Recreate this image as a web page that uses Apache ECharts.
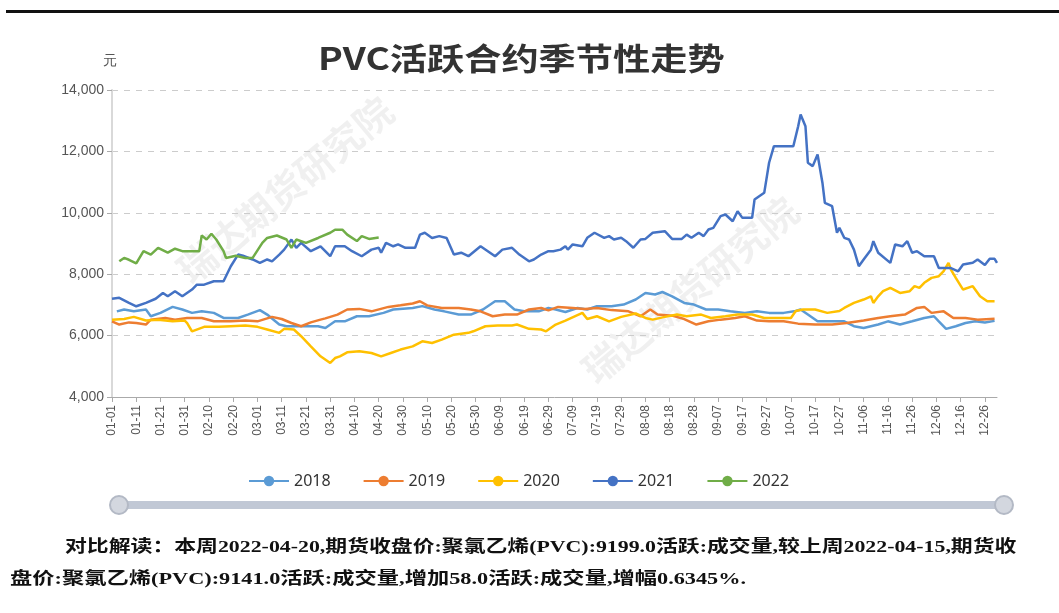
<!DOCTYPE html>
<html>
<head>
<meta charset="utf-8">
<script src="https://cdn.jsdelivr.net/npm/echarts@6/dist/echarts.min.js"></script>
<style>
  html, body { margin: 0; padding: 0; background: #fff; }
  #chart { width: 1059px; height: 613px; }
</style>
</head>
<body>
<div id="chart"></div>
<script>
// category axis: every day of a leap year, MM-DD
const monthDays = [31, 29, 31, 30, 31, 30, 31, 31, 30, 31, 30, 31]
const days = []
monthDays.forEach((n, m) => {
  for (let d = 1; d <= n; d++) {
    days.push(String(m + 1).padStart(2, '0') + '-' + String(d).padStart(2, '0'))
  }
})

const years = ['2018', '2019', '2020', '2021', '2022']
const colors = ['#5B9BD5', '#ED7D31', '#FFC000', '#4472C4', '#70AD47']
const yTicks = [4000, 14000, 2000] // min, max, step

// values, [date, price]
const s2018 = [
  ['01-03', 6790], ['01-06', 6850], ['01-10', 6790], ['01-15', 6850], ['01-17', 6630], ['01-21', 6740],
  ['01-26', 6935], ['01-30', 6850], ['02-03', 6740], ['02-07', 6790], ['02-12', 6740], ['02-16', 6575],
  ['02-22', 6575], ['02-26', 6685], ['03-02', 6830], ['03-05', 6685], ['03-10', 6360], ['03-13', 6305],
  ['03-21', 6305], ['03-26', 6305], ['03-29', 6250], ['04-02', 6465], ['04-06', 6465], ['04-11', 6630],
  ['04-16', 6630], ['04-22', 6740], ['04-26', 6850], ['05-04', 6900], ['05-08', 6960], ['05-13', 6850],
  ['05-17', 6790], ['05-23', 6685], ['05-28', 6685], ['06-02', 6850], ['06-07', 7120], ['06-11', 7120],
  ['06-15', 6850], ['06-19', 6790], ['06-25', 6790], ['06-29', 6900], ['07-02', 6850], ['07-06', 6770],
  ['07-11', 6900], ['07-15', 6850], ['07-19', 6955], ['07-25', 6955], ['07-30', 7010], ['08-04', 7175],
  ['08-08', 7390], ['08-12', 7340], ['08-15', 7420], ['08-19', 7280], ['08-24', 7065], ['08-28', 7010],
  ['09-02', 6850], ['09-07', 6850], ['09-12', 6790], ['09-18', 6740], ['09-23', 6790], ['09-28', 6740],
  ['10-04', 6740], ['10-09', 6800], ['10-11', 6850], ['10-14', 6690], ['10-18', 6465], ['10-24', 6465],
  ['10-29', 6465], ['11-02', 6305], ['11-06', 6250], ['11-12', 6360], ['11-16', 6465], ['11-21', 6360],
  ['11-26', 6465], ['12-01', 6575], ['12-05', 6630], ['12-07', 6465], ['12-10', 6220], ['12-14', 6305],
  ['12-18', 6410], ['12-22', 6465], ['12-26', 6430], ['12-30', 6480]
]
const s2019 = [
  ['01-01', 6465], ['01-04', 6360], ['01-08', 6430], ['01-11', 6410], ['01-15', 6360], ['01-17', 6520],
  ['01-23', 6575], ['01-27', 6520], ['02-01', 6575], ['02-07', 6575], ['02-12', 6465], ['02-19', 6465],
  ['02-25', 6490], ['03-01', 6465], ['03-07', 6610], ['03-11', 6540], ['03-15', 6410], ['03-19', 6305],
  ['03-23', 6430], ['03-27', 6520], ['03-29', 6560], ['04-03', 6685], ['04-07', 6850], ['04-12', 6870],
  ['04-17', 6790], ['04-24', 6935], ['04-29', 6985], ['05-04', 7045], ['05-07', 7120], ['05-10', 6985],
  ['05-16', 6900], ['05-23', 6900], ['05-28', 6850], ['06-01', 6790], ['06-06', 6630], ['06-11', 6685],
  ['06-16', 6685], ['06-21', 6850], ['06-26', 6900], ['06-29', 6820], ['07-03', 6935], ['07-09', 6900],
  ['07-14', 6870], ['07-19', 6900], ['07-25', 6830], ['08-01', 6790], ['08-06', 6630], ['08-10', 6850],
  ['08-13', 6685], ['08-19', 6650], ['08-24', 6540], ['08-29', 6360], ['09-03', 6465], ['09-08', 6520],
  ['09-14', 6575], ['09-18', 6630], ['09-23', 6490], ['09-28', 6465], ['10-04', 6465], ['10-10', 6390],
  ['10-17', 6360], ['10-24', 6360], ['10-30', 6410], ['11-06', 6490], ['11-12', 6575], ['11-17', 6630],
  ['11-23', 6685], ['11-28', 6900], ['12-01', 6935], ['12-04', 6740], ['12-09', 6790], ['12-13', 6575],
  ['12-18', 6575], ['12-23', 6520], ['12-30', 6550]
]
const s2020 = [
  ['01-01', 6520], ['01-06', 6540], ['01-10', 6610], ['01-15', 6490], ['01-20', 6520], ['01-26', 6465],
  ['01-31', 6490], ['02-01', 6410], ['02-03', 6140], ['02-08', 6285], ['02-14', 6285], ['02-19', 6305],
  ['02-25', 6330], ['03-01', 6285], ['03-05', 6200], ['03-10', 6090], ['03-12', 6220], ['03-16', 6200],
  ['03-19', 5980], ['03-23', 5650], ['03-27', 5325], ['03-31', 5110], ['04-02', 5270], ['04-04', 5325],
  ['04-07', 5455], ['04-12', 5490], ['04-17', 5435], ['04-21', 5325], ['04-25', 5435], ['04-29', 5545],
  ['05-04', 5650], ['05-08', 5815], ['05-12', 5760], ['05-16', 5870], ['05-21', 6030], ['05-27', 6090],
  ['05-29', 6140], ['06-03', 6305], ['06-08', 6330], ['06-14', 6330], ['06-16', 6360], ['06-21', 6220],
  ['06-26', 6200], ['06-28', 6140], ['07-02', 6360], ['07-06', 6490], ['07-13', 6740], ['07-15', 6540],
  ['07-19', 6630], ['07-24', 6465], ['07-29', 6610], ['08-04', 6720], ['08-08', 6575], ['08-11', 6520],
  ['08-16', 6610], ['08-21', 6685], ['08-25', 6630], ['08-31', 6685], ['09-04', 6575], ['09-10', 6630],
  ['09-15', 6685], ['09-21', 6685], ['09-26', 6575], ['10-07', 6575], ['10-09', 6800], ['10-12', 6850],
  ['10-17', 6850], ['10-22', 6740], ['10-27', 6800], ['10-29', 6900], ['11-02', 7065], ['11-06', 7175],
  ['11-09', 7280], ['11-10', 7065], ['11-12', 7280], ['11-14', 7445], ['11-17', 7555], ['11-21', 7390],
  ['11-25', 7445], ['11-27', 7610], ['11-29', 7555], ['12-01', 7720], ['12-04', 7880], ['12-07', 7935],
  ['12-09', 8100], ['12-11', 8370], ['12-12', 8150], ['12-14', 7880], ['12-17', 7500], ['12-21', 7610],
  ['12-24', 7280], ['12-27', 7120], ['12-30', 7120]
]
const s2021 = [
  ['01-01', 7200], ['01-04', 7230], ['01-08', 7065], ['01-11', 6955], ['01-15', 7065], ['01-19', 7200],
  ['01-22', 7390], ['01-24', 7280], ['01-27', 7445], ['01-30', 7280], ['02-03', 7500], ['02-05', 7660],
  ['02-08', 7660], ['02-12', 7770], ['02-16', 7770], ['02-19', 8260], ['02-22', 8640], ['02-24', 8600],
  ['02-28', 8480], ['03-02', 8370], ['03-05', 8480], ['03-07', 8420], ['03-10', 8640], ['03-12', 8800],
  ['03-15', 9130], ['03-17', 8860], ['03-19', 9020], ['03-23', 8750], ['03-27', 8910], ['03-31', 8585],
  ['04-02', 8910], ['04-06', 8910], ['04-09', 8750], ['04-13', 8585], ['04-17', 8800], ['04-20', 8860],
  ['04-21', 8700], ['04-23', 9020], ['04-26', 8910], ['04-28', 8970], ['05-01', 8860], ['05-05', 8860],
  ['05-07', 9290], ['05-09', 9350], ['05-12', 9180], ['05-15', 9240], ['05-18', 9180], ['05-21', 8640],
  ['05-24', 8700], ['05-27', 8585], ['06-01', 8910], ['06-04', 8750], ['06-07', 8585], ['06-10', 8800],
  ['06-14', 8860], ['06-17', 8640], ['06-21', 8420], ['06-23', 8480], ['06-26', 8640], ['06-29', 8750],
  ['07-01', 8750], ['07-04', 8800], ['07-06', 8910], ['07-07', 8800], ['07-09', 8970], ['07-13', 8910],
  ['07-15', 9185], ['07-18', 9350], ['07-22', 9185], ['07-24', 9240], ['07-26', 9130], ['07-29', 9185],
  ['07-31', 9075], ['08-03', 8860], ['08-06', 9130], ['08-08', 9150], ['08-11', 9350], ['08-16', 9400],
  ['08-19', 9150], ['08-23', 9150], ['08-25', 9290], ['08-27', 9185], ['08-30', 9350], ['09-01', 9240],
  ['09-03', 9455], ['09-05', 9510], ['09-08', 9890], ['09-10', 9945], ['09-13', 9725], ['09-15', 10050],
  ['09-17', 9835], ['09-21', 9835], ['09-22', 10430], ['09-26', 10650], ['09-28', 11630], ['09-30', 12170],
  ['10-08', 12170], ['10-10', 12820], ['10-11', 13200], ['10-13', 12820], ['10-14', 11630], ['10-16', 11520],
  ['10-18', 11900], ['10-20', 10980], ['10-21', 10325], ['10-24', 10215], ['10-26', 9350], ['10-27', 9510],
  ['10-29', 9185], ['10-31', 9130], ['11-02', 8800], ['11-04', 8260], ['11-06', 8480], ['11-09', 8800],
  ['11-10', 9075], ['11-12', 8700], ['11-17', 8370], ['11-19', 8970], ['11-22', 8910], ['11-24', 9075],
  ['11-26', 8700], ['11-28', 8750], ['12-01', 8585], ['12-05', 8585], ['12-07', 8200], ['12-12', 8200],
  ['12-15', 8095], ['12-17', 8315], ['12-21', 8370], ['12-23', 8480], ['12-26', 8300], ['12-28', 8500],
  ['12-30', 8500], ['12-31', 8370]
]
const s2022 = [
  ['01-04', 8420], ['01-06', 8530], ['01-08', 8470], ['01-11', 8350], ['01-14', 8750], ['01-17', 8640],
  ['01-20', 8860], ['01-24', 8700], ['01-27', 8830], ['01-30', 8750], ['02-06', 8750], ['02-07', 9260],
  ['02-09', 9130], ['02-11', 9320], ['02-13', 9130], ['02-16', 8750], ['02-17', 8530], ['02-21', 8600],
  ['02-25', 8530], ['02-28', 8530], ['03-03', 9020], ['03-05', 9180], ['03-09', 9260], ['03-13', 9130],
  ['03-15', 8860], ['03-17', 9130], ['03-21', 9020], ['03-26', 9180], ['03-31', 9350], ['04-02', 9450],
  ['04-05', 9450], ['04-07', 9290], ['04-11', 9080], ['04-13', 9240], ['04-16', 9150], ['04-20', 9199]
]
const seriesData = [s2018, s2019, s2020, s2021, s2022]

const titleText = 'PVC活跃合约季节性走势'
const noteLine1 = '对比解读：本周2022-04-20,期货收盘价:聚氯乙烯(PVC):9199.0活跃:成交量,较上周2022-04-15,期货收'
const noteLine2 = '盘价:聚氯乙烯(PVC):9141.0活跃:成交量,增加58.0活跃:成交量,增幅0.6345%.'

const chart = echarts.init(document.getElementById('chart'))

const noteStyle = {
  fill: '#111',
  font: 'bold 17px "Liberation Serif", "Noto Sans CJK SC", serif'
}
const markStyle = {
  fill: 'rgba(0,0,0,0.06)',
  font: 'bold 38px "Noto Sans CJK SC", sans-serif',
  align: 'center',
  verticalAlign: 'middle'
}

const option = {
  animation: false,
  color: colors,
  graphic: [
    { type: 'rect', left: 6, top: 10, shape: { width: 1053, height: 3 }, style: { fill: '#111' } },
    {
      type: 'text', x: 318, y: 43, scaleX: 1.2,
      style: { text: titleText, fill: '#333', font: 'bold 31px "Noto Sans CJK SC", sans-serif' }
    },
    { type: 'text', x: 285, y: 190, rotation: Math.PI * 0.22, style: Object.assign({ text: '瑞达期货研究院' }, markStyle) },
    { type: 'text', x: 690, y: 290, rotation: Math.PI * 0.22, style: Object.assign({ text: '瑞达期货研究院' }, markStyle) },
    { type: 'text', x: 65, y: 539, scaleX: 1.285, style: Object.assign({ text: noteLine1 }, noteStyle) },
    { type: 'text', x: 10, y: 571, scaleX: 1.31, style: Object.assign({ text: noteLine2 }, noteStyle) }
  ],
  legend: {
    data: years,
    top: 468,
    left: 243,
    itemWidth: 40,
    itemHeight: 13,
    itemGap: 32,
    textStyle: { color: '#333', fontSize: 16, fontFamily: '"Noto Sans", sans-serif' }
  },
  grid: {
    left: 112,
    right: 62,
    top: 90,
    bottom: 216
  },
  xAxis: {
    type: 'category',
    data: days,
    boundaryGap: false,
    axisLine: { lineStyle: { color: '#aaa' } },
    axisTick: { interval: 9, lineStyle: { color: '#aaa' } },
    axisLabel: { interval: 9, rotate: 90, color: '#555', fontSize: 12, margin: 8 }
  },
  yAxis: {
    type: 'value',
    name: '元',
    nameLocation: 'end',
    nameGap: 22,
    nameTextStyle: { color: '#555', fontSize: 14, padding: [0, 0, 0, -4] },
    min: yTicks[0],
    max: yTicks[1],
    interval: yTicks[2],
    axisLine: { show: true, lineStyle: { color: '#d9d9d9', width: 2 } },
    axisTick: { show: true, lineStyle: { color: '#aaa' } },
    axisLabel: {
      color: '#555',
      fontSize: 14,
      formatter: v => v.toLocaleString('en-US')
    },
    splitLine: { lineStyle: { color: '#ccc', type: [6, 6] } }
  },
  dataZoom: [{
    type: 'slider',
    xAxisIndex: 0,
    left: 116,
    right: 56,
    bottom: 104,
    height: 8,
    showDetail: false,
    showDataShadow: false,
    brushSelect: false,
    moveHandleSize: 0,
    backgroundColor: '#e3e6ec',
    borderColor: 'transparent',
    fillerColor: 'rgba(170,180,198,0.6)',
    handleIcon: 'circle',
    handleSize: 18,
    handleStyle: { color: '#d3d7df', borderColor: '#b3b9c5', borderWidth: 2 }
  }],
  series: years.map((y, i) => ({
    name: y,
    type: 'line',
    data: seriesData[i],
    symbol: 'circle',
    symbolSize: 8,
    showSymbol: false,
    lineStyle: { width: 2.5 }
  }))
}

chart.setOption(option)
</script>
</body>
</html>
